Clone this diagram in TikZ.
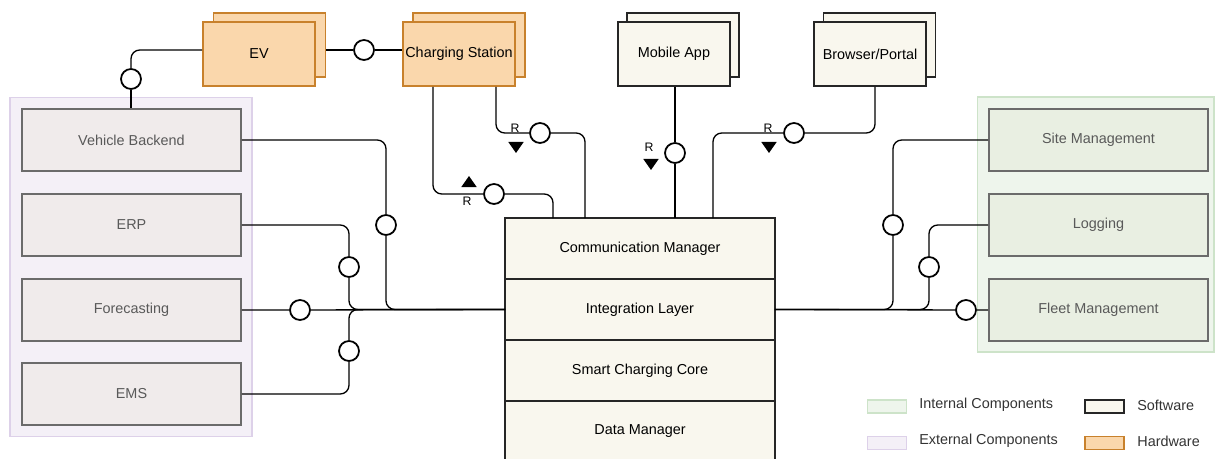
\documentclass[tikz,border=0pt]{standalone}
\usepackage{fontspec}
\setmainfont{Liberation Sans}
\usetikzlibrary{shapes,arrows,positioning,calc}

\definecolor{hwfill}{HTML}{FAD7AC}
\definecolor{hwdraw}{HTML}{C8812C}
\definecolor{swfill}{HTML}{F9F7EE}
\definecolor{extfill}{HTML}{F4F0F7}
\definecolor{extdraw}{HTML}{DDD1E9}
\definecolor{intfill}{HTML}{EEF5EC}
\definecolor{intdraw}{HTML}{CDE3C9}
\definecolor{compgray}{HTML}{F0EBEB}
\definecolor{compgreen}{HTML}{E9EFE2}

\begin{document}
\begin{tikzpicture}[
    x=0.02cm, y=-0.02cm,
    every node/.style={font=\fontsize{8.2}{10}\selectfont},
    hardware/.style={rectangle, draw=hwdraw, line width=1pt, fill=hwfill, minimum width=2.24cm, minimum height=1.28cm, inner sep=0pt},
    software/.style={rectangle, draw=black!85, line width=1pt, fill=swfill, minimum width=2.24cm, minimum height=1.28cm, inner sep=0pt},
    extcomp/.style={rectangle, draw=black!58, line width=1pt, fill=compgray, text=black!65, minimum width=4.38cm, minimum height=1.24cm},
    intcomp/.style={rectangle, draw=black!58, line width=1pt, fill=compgreen, text=black!65, minimum width=4.38cm, minimum height=1.24cm},
    layer/.style={rectangle, draw=black!85, line width=1pt, fill=swfill, minimum width=5.4cm, minimum height=1.22cm, outer sep=0pt},
    group/.style={rectangle, line width=0.6pt, inner sep=0pt},
    socket/.style={circle, draw, line width=1pt, fill=white, minimum size=0.4cm, inner sep=0pt},
    wire/.style={line width=0.75pt, rounded corners=5pt},
    tipup/.style={isosceles triangle, isosceles triangle apex angle=70, shape border rotate=90, fill=black, inner sep=0pt, minimum size=0.22cm},
    tipdown/.style={isosceles triangle, isosceles triangle apex angle=70, shape border rotate=-90, fill=black, inner sep=0pt, minimum size=0.22cm},
    rlabel/.style={font=\fontsize{7}{8}\selectfont, inner sep=0pt},
    swatch/.style={rectangle, line width=1pt, minimum width=0.78cm, minimum height=0.26cm},
    legend/.style={anchor=west, text=black!80, inner sep=0pt}
]
\useasboundingbox (0,0) rectangle (1215,459);

% Group backgrounds
\node[group, draw=extdraw, fill=extfill, minimum width=4.84cm, minimum height=6.8cm] (extgroup) at (131, 267) {};
\node[group, draw=intdraw, fill=intfill, minimum width=4.74cm, minimum height=5.1cm] (intgroup) at (1095.5, 224.5) {};

% Hardware
\node[hardware] (ev back) at (269.5, 45) {};
\node[hardware] (ev) at (259, 54) {EV};
\node[hardware] (cs back) at (469, 45) {};
\node[hardware] (cs) at (459, 54) {Charging Station};

% Clients
\node[software] (ma back) at (683, 45) {};
\node[software] (ma) at (674, 54) {Mobile App};
\node[software] (bp back) at (879.5, 45) {};
\node[software] (bp) at (870, 54) {Browser/Portal};

% External components
\node[extcomp] (vb) at (131.5, 140) {Vehicle Backend};
\node[extcomp] (erp) at (131.5, 225) {ERP};
\node[extcomp] (fc) at (131.5, 310) {Forecasting};
\node[extcomp] (ems) at (131.5, 394) {EMS};

% Internal components
\node[intcomp] (sm) at (1098.5, 140) {Site Management};
\node[intcomp] (log) at (1098.5, 225) {Logging};
\node[intcomp] (fm) at (1098.5, 310) {Fleet Management};

% Smart charging system
\node[layer] (comm) at (640, 248.5) {Communication Manager};
\node[layer, below=0pt of comm] (il) {Integration Layer};
\node[layer, below=0pt of il] (core) {Smart Charging Core};
\node[layer, below=0pt of core] (dm) {Data Manager};

% Interfaces
\node[socket] (evl) at (131, 79) {};
\node[socket] (evcs) at (364, 50) {};
\node[socket] (rc1) at (494, 194) {};
\node[socket] (rc2) at (540, 133) {};
\node[socket] (rc3) at (675, 153) {};
\node[socket] (rc4) at (794, 133) {};
\node[socket] (rcvb) at (386, 225) {};
\node[socket] (rcerp) at (349, 267) {};
\node[socket] (rcfc) at (300, 310) {};
\node[socket] (rcems) at (349, 351) {};
\node[socket] (rcsm) at (893, 225) {};
\node[socket] (rclog) at (929, 267) {};
\node[socket] (rcfm) at (966, 310) {};

% Connections on top
\draw[wire] ([yshift=0.08cm]ev.west) -| (evl);
\draw[wire] (evl) -- (evl |- vb.north);
\draw[wire] (ev back.east |- evcs) -- (evcs) -- (cs.west |- evcs);
\draw[wire] ([xshift=-0.52cm]cs.south) |- (rc1);
\draw[wire] (rc1) -| ([xshift=-1.74cm]comm.north);
\draw[wire] ([xshift=0.74cm]cs.south) |- (rc2);
\draw[wire] (rc2) -| ([xshift=-1.1cm]comm.north);
\draw[wire] (ma.south -| rc3) -- (rc3) -- (rc3 |- comm.north);
\draw[wire] ([xshift=0.1cm]bp.south) |- (rc4);
\draw[wire] (rc4) -| ([xshift=1.46cm]comm.north);

% Connections on the left
\draw[wire] (fc.east) -- (rcfc) -- (il.west);
\draw[wire] (vb.east) -| (rcvb);
\draw[wire] (rcvb) |- (il.west);
\draw[wire] (erp.east) -| (rcerp);
\draw[wire] (rcerp) |- (il.west);
\draw[wire] (ems.east) -| (rcems);
\draw[wire] (rcems) |- (il.west);

% Connections on the right
\draw[wire] (il.east) -- (rcfm) -- (fm.west);
\draw[wire] (sm.west) -| (rcsm);
\draw[wire] (rcsm) |- (il.east);
\draw[wire] (log.west) -| (rclog);
\draw[wire] (rclog) |- (il.east);

% Direction marks
\node[tipup] (t1) at (469, 183) {};
\node[rlabel] (r1) at (467, 201) {R};
\node[rlabel] (r2) at (515, 128) {R};
\node[tipdown] (t2) at (516, 146) {};
\node[rlabel] (r3) at (649, 147) {R};
\node[tipdown] (t3) at (651, 163) {};
\node[rlabel] (r4) at (768, 128) {R};
\node[tipdown] (t4) at (769, 146) {};

% Legend
\node[swatch, draw=intdraw, fill=intfill] (lgint) at (887, 406.5) {};
\node[legend] (lgintt) at (919, 405) {Internal Components};
\node[swatch, draw=extdraw, fill=extfill] (lgext) at (887, 443) {};
\node[legend] (lgextt) at (919, 441) {External Components};
\node[swatch, draw=black!85, fill=swfill] (lgsw) at (1104.5, 406.5) {};
\node[legend] (lgswt) at (1137, 405) {Software};
\node[swatch, draw=hwdraw, fill=hwfill] (lghw) at (1104.5, 443) {};
\node[legend] (lghwt) at (1137, 441) {Hardware};

\end{tikzpicture}
\end{document}
